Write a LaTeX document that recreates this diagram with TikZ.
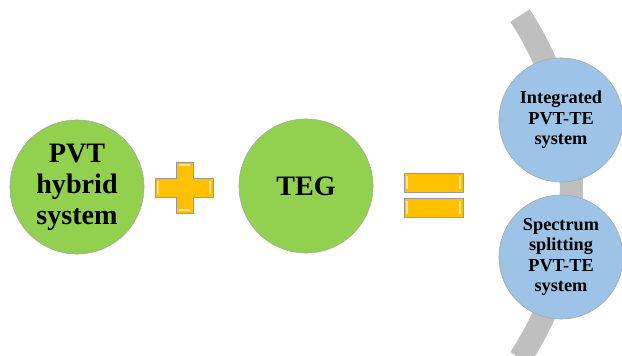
\documentclass[tikz,border=0pt]{standalone}
\usepackage{fontspec}
\setmainfont{Liberation Serif}
\usetikzlibrary{calc}
\pgfdeclarelayer{background}
\pgfdeclarelayer{main}
\pgfsetlayers{background,main}
\definecolor{leafgreen}{HTML}{92D050}
\definecolor{skyblue}{HTML}{9DC3E6}
\definecolor{signgold}{HTML}{FFC000}
\definecolor{bandgray}{HTML}{BFBFBF}
\tikzset{
  greenball/.style={circle, minimum size=3.35cm, inner sep=0pt, fill=leafgreen,
    draw=gray!70, thin, align=center, font=\fontsize{20}{22}\selectfont\bfseries},
  blueball/.style={circle, minimum size=3.1cm, inner sep=0pt, fill=skyblue,
    draw=gray!70, thin, align=center, font=\fontsize{13}{14.5}\selectfont\bfseries},
  signbar/.style={fill=signgold, draw=gray!80, line width=0.6pt},
  signshine/.style={draw=signgold!45!white, line width=0.8pt}
}

\begin{document}
\begin{tikzpicture}[x=0.025cm,y=0.025cm]
\useasboundingbox (0,0) rectangle (622,355);
\coordinate (Hub)    at (261,168);
\coordinate (PvtC)   at (77,168);
\coordinate (TegC)   at (306,169);
\coordinate (IntC)   at (561,235);
\coordinate (SplitC) at (561,98);

\begin{pgfonlayer}{background}
  \draw[bandgray, line width=0.575cm] ($(Hub)+(-33.5:310.5)$)
    arc[start angle=-33.5, end angle=33.5, radius=310.5];% grey band behind the blue balls
\end{pgfonlayer}

\node[greenball] (Pvt) at (PvtC) {PVT\\hybrid\\system};
\node[greenball] (Teg) at (TegC) {TEG};

% plus sign
\draw[signbar] (176,193) -- (193,193) -- (193,177) -- (213,177) -- (213,158)
  -- (193,158) -- (193,142) -- (176,142) -- (176,158) -- (155,158)
  -- (155,177) -- (176,177) -- cycle;
\draw[signshine] (158,161) -- (158,174) (210,161) -- (210,174)
  (179,190) -- (190,190) (179,145) -- (190,145);

% equals sign
\draw[signbar] (404,163) rectangle (463,182);
\draw[signbar] (404,138) rectangle (463,157);
\draw[signshine] (407,166) -- (407,179) (460,166) -- (460,179)
  (407,141) -- (407,154) (460,141) -- (460,154);

\node[blueball] (Int) at (IntC) {Integrated\\PVT-TE\\system};
\node[blueball] (Split) at (SplitC) {Spectrum\\splitting\\PVT-TE\\system};
\end{tikzpicture}
\end{document}
